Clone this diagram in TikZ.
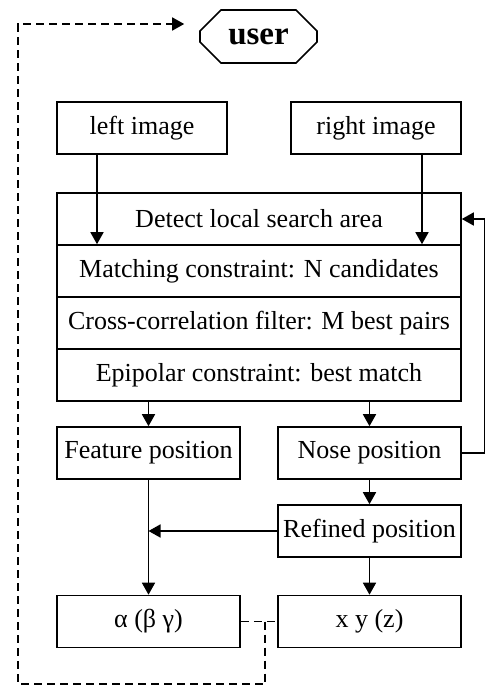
\documentclass[tikz,border=0pt]{standalone}
\usepackage{fontspec}
\setmainfont{Liberation Serif}
\usetikzlibrary{arrows.meta,shapes.misc}
\begin{document}
\begin{tikzpicture}[x=0.5pt,y=-0.5pt,font=\fontsize{13}{15}\selectfont]
    \useasboundingbox (0,0) rectangle (485,686);
    \node[chamfered rectangle,chamfered rectangle xsep=6.5pt,chamfered rectangle ysep=6.5pt,draw,line width=0.8pt,
        minimum width=58.5pt,minimum height=26.5pt,inner sep=0pt,font=\fontsize{16.5}{18}\selectfont\bfseries] (user) at (258.5,36.5) {user};

    \begin{scope}[every node/.style={rectangle,draw,line width=0.8pt,inner sep=0pt,minimum height=26pt}]
        \node[minimum width=85pt] (limg) at (142,128) {left image};
        \node[minimum width=85pt] (rimg) at (376,128) {right image};
        \node[minimum width=202pt] (detect) at (259,219) {Detect local search area};
        \node[minimum width=202pt] (match) at (259,271) {Matching constraint: N candidates};
        \node[minimum width=202pt] (cross) at (259,323) {Cross-correlation filter: M best pairs};
        \node[minimum width=202pt] (epi) at (259,375) {Epipolar constraint: best match};
        \node[minimum width=91.5pt] (feature) at (148.5,453) {Feature position};
        \node[minimum width=91.5pt] (nose) at (369.5,453) {Nose position};
        \node[minimum width=91.5pt] (refined) at (369.5,531) {Refined position};
        \node[minimum width=91.5pt] (alpha) at (148.5,621.5) {α (β γ)};
        \node[minimum width=91.5pt] (xyz) at (369.5,621.5) {x y (z)};
    \end{scope}

    \begin{scope}[>={Triangle[width=6.5pt,length=6pt]},line width=0.8pt]
        \path [->] ([xshift=-22.5pt]limg.south) edge ([xshift=-22.5pt]limg.south |- match.north);
        \path [->] ([xshift=23pt]rimg.south) edge ([xshift=23pt]rimg.south |- match.north);
        \path [->] (feature.north |- epi.south) edge (feature);
        \path [->] (nose.north |- epi.south) edge (nose);
        \path [->] (nose) edge (refined);
        \path [->] (refined) edge (xyz);
        \path [->] (feature) edge (alpha);
        \path [->] (refined.west) edge (refined.west -| feature.south);
        \draw [->] (nose.east) -- ++(11.5pt,0) |- (detect.east);

        \coordinate (junc) at (265,621.5);
        \coordinate (ret) at ([xshift=-7.5pt,yshift=6.25pt]user.west);
        \draw [dash pattern=on 4pt off 2.5pt] (alpha.east) -- (xyz.west);
        \draw [dash pattern=on 4pt off 2.5pt,->] (junc) |- (18,684) |- (ret);
    \end{scope}
\end{tikzpicture}
\end{document}
